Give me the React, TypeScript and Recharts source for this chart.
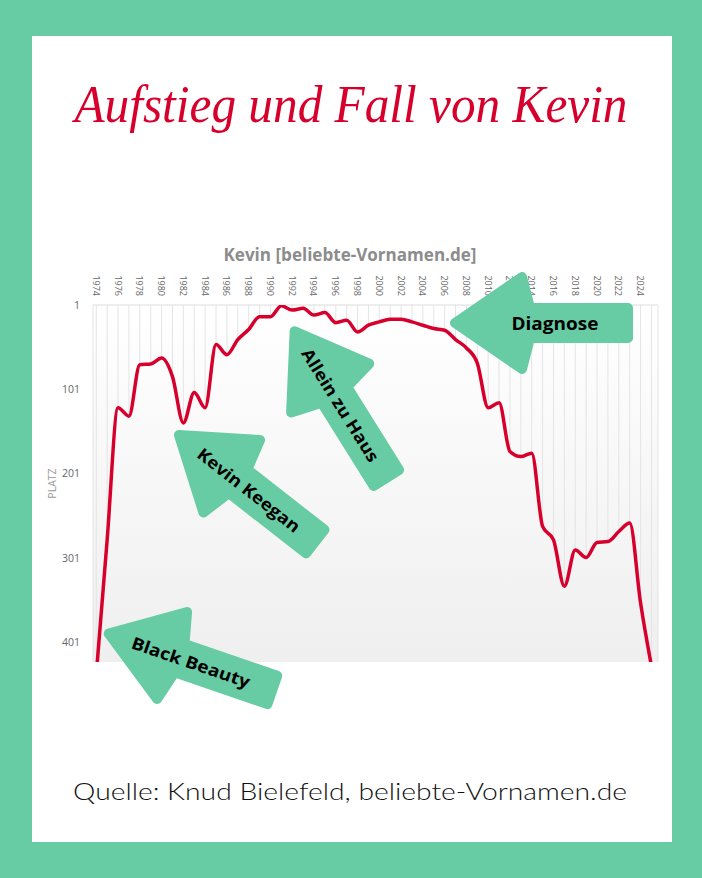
import { ComposedChart, Area, Line, XAxis, YAxis, CartesianGrid, ReferenceLine } from 'recharts'

const YEARS = [
  1974, 1975, 1976, 1977, 1978, 1979, 1980, 1981, 1982, 1983,
  1984, 1985, 1986, 1987, 1988, 1989, 1990, 1991, 1992, 1993,
  1994, 1995, 1996, 1997, 1998, 1999, 2000, 2001, 2002, 2003,
  2004, 2005, 2006, 2007, 2008, 2009, 2010, 2011, 2012, 2013,
  2014, 2015, 2016, 2017, 2018, 2019, 2020, 2021, 2022, 2023,
  2024, 2025,
]

// Platz (rank) of "Kevin" per year
const RANKS = [
  440, 280, 123, 133, 72, 71, 64, 86, 141, 105,
  123, 48, 60, 42, 30, 15, 15, 2, 7, 5,
  13, 10, 22, 19, 33, 25, 21, 18, 18, 21,
  25, 29, 31, 42, 52, 70, 123, 117, 175, 181,
  177, 264, 280, 335, 292, 301, 283, 282, 270, 260,
  355, 430,
]

const RANK_TICKS = [1, 101, 201, 301, 401]

const GREEN = '#67cba4'
const RED = '#d7002c'
const FONT = '"Open Sans", Lato, sans-serif'

const data = YEARS.map((year, i) => ({ year, rank: RANKS[i] }))

function YearTick(props: any) {
  const { x, y, payload } = props
  if (payload.value % 2 !== 0) return <g />
  return (
    <text
      x={x}
      y={y}
      transform={`rotate(90, ${x}, ${y})`}
      textAnchor="end"
      dominantBaseline="central"
      fontSize={9}
      fontFamily={FONT}
      fill="#666"
    >
      {payload.value}
    </text>
  )
}

function RankTick(props: any) {
  const { x, y, payload } = props
  return (
    <text x={x} y={y} textAnchor="end" dominantBaseline="central" fontSize={10.5} fontFamily={FONT} fill="#666">
      {payload.value}
    </text>
  )
}

function PlatzLabel(props: any) {
  const { viewBox } = props
  const cx = 52
  const cy = viewBox.y + viewBox.height / 2
  return (
    <text
      x={cx}
      y={cy}
      transform={`rotate(-90, ${cx}, ${cy})`}
      textAnchor="middle"
      dominantBaseline="central"
      fontSize={10.5}
      fontFamily={FONT}
      fill="#999"
    >
      PLATZ
    </text>
  )
}

// arrow shape, tip at origin, body along +x
const ARROW_PATH = 'M5,0 L72,-46 L80,-15 L178,-15 L178,15 L80,15 L72,46 Z'

const ARROWS = [
  { label: 'Diagnose', x: 450, y: 323, angle: 0, textAt: 105, len: 87 },
  { label: 'Allein zu Haus', x: 292, y: 327, angle: 58, textAt: 92, len: 130 },
  { label: 'Kevin Keegan', x: 175, y: 432, angle: 38, textAt: 94, len: 125 },
  { label: 'Black Beauty', x: 104, y: 632, angle: 19, textAt: 92, len: 124 },
]

function Arrow({ label, x, y, angle, textAt, len }: typeof ARROWS[number]) {
  return (
    <g transform={`translate(${x}, ${y}) rotate(${angle})`}>
      <path d={ARROW_PATH} fill={GREEN} stroke={GREEN} strokeWidth={10} strokeLinejoin="round" />
      <text
        x={textAt}
        y={0}
        textAnchor="middle"
        dominantBaseline="central"
        fontSize={17}
        fontWeight={700}
        fontFamily={FONT}
        fill="#000"
        textLength={len}
        lengthAdjust="spacingAndGlyphs"
      >
        {label}
      </text>
    </g>
  )
}

export default function App() {
  return (
    <div style={{ position: 'absolute', left: 0, top: 0, width: 702, height: 878, background: GREEN, overflow: 'hidden' }}>
      <div style={{ position: 'absolute', left: 32, top: 36, width: 640, height: 806, background: '#fff' }} />
      <div style={{ position: 'absolute', left: 0, top: 0 }}>
        <ComposedChart width={702} height={700} data={data} margin={{ top: 275, right: 44, left: 33, bottom: 38 }}>
          <defs>
            <linearGradient id="plotGrad" x1="0" y1="305" x2="0" y2="662" gradientUnits="userSpaceOnUse">
              <stop offset="0%" stopColor="#ffffff" />
              <stop offset="100%" stopColor="#efefef" />
            </linearGradient>
          </defs>
          <CartesianGrid horizontal={false} stroke="#e4e4e4" fill="url(#plotGrad)" />
          <XAxis
            dataKey="year"
            type="number"
            orientation="top"
            domain={[1973.7, 2025.6]}
            ticks={YEARS}
            interval={0}
            height={30}
            axisLine={false}
            tickLine={false}
            tickSize={0}
            tickMargin={9}
            tick={<YearTick />}
          />
          <YAxis
            type="number"
            domain={[1, 425]}
            reversed
            allowDataOverflow
            ticks={RANK_TICKS}
            width={60}
            axisLine={false}
            tickLine={false}
            tickSize={0}
            tickMargin={13}
            tick={<RankTick />}
            label={<PlatzLabel />}
          />
          <ReferenceLine y={1} stroke="#dcdcdc" />
          <Area
            type="monotone"
            dataKey="rank"
            baseValue={425}
            stroke="none"
            fill="url(#plotGrad)"
            fillOpacity={1}
            isAnimationActive={false}
          />
          <Line
            type="monotone"
            dataKey="rank"
            stroke={RED}
            strokeWidth={3.5}
            dot={false}
            activeDot={false}
            isAnimationActive={false}
          />
        </ComposedChart>
      </div>
      <svg width={702} height={878} style={{ position: 'absolute', left: 0, top: 0, pointerEvents: 'none' }}>
        <text
          x={351}
          y={122}
          textAnchor="middle"
          fontSize={52}
          fontStyle="italic"
          fontFamily='"Liberation Serif", "DejaVu Serif", serif'
          fill={RED}
          textLength={553}
          lengthAdjust="spacingAndGlyphs"
        >
          Aufstieg und Fall von Kevin
        </text>
        <text
          x={350}
          y={261}
          textAnchor="middle"
          fontSize={17}
          fontWeight={700}
          fontFamily={FONT}
          fill="#8c8c8c"
          textLength={253}
          lengthAdjust="spacingAndGlyphs"
        >
          Kevin [beliebte-Vornamen.de]
        </text>
        {ARROWS.map(a => <Arrow key={a.label} {...a} />)}
        <text
          x={350}
          y={800}
          textAnchor="middle"
          fontSize={23}
          fontWeight={300}
          fontFamily='Lato, "Open Sans", sans-serif'
          fill="#111"
          textLength={554}
          lengthAdjust="spacingAndGlyphs"
        >
          Quelle: Knud Bielefeld, beliebte-Vornamen.de
        </text>
      </svg>
    </div>
  )
}
